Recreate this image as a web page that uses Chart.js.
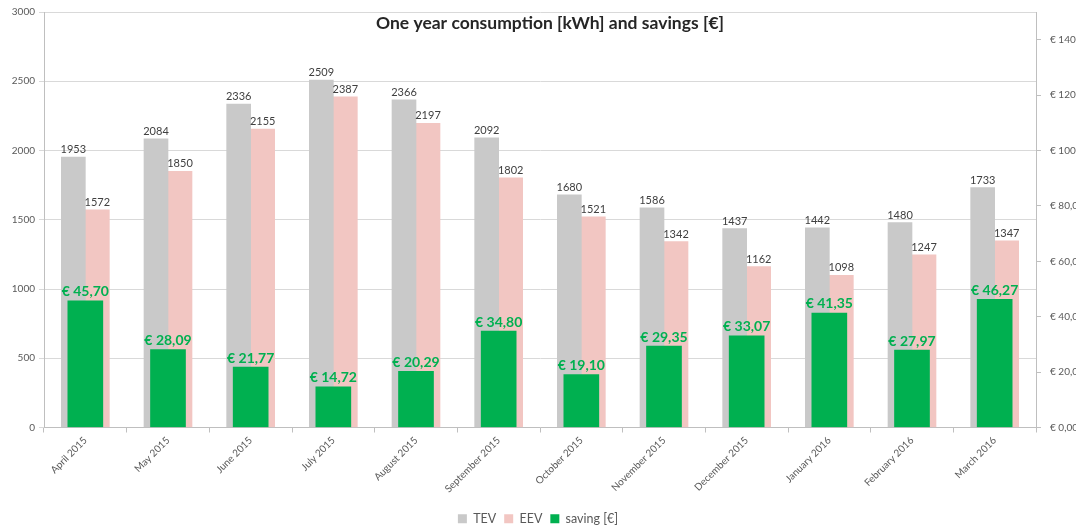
<!DOCTYPE html>
<html>
<head>
<meta charset="utf-8">
<script src="https://cdn.jsdelivr.net/npm/chart.js@4"></script>
<style>
  html, body { margin: 0; padding: 0; background: #fff; overflow: hidden; }
  #wrap { width: 1076px; height: 531px; }
</style>
</head>
<body>
<div id="wrap"><canvas id="chart" width="1076" height="531"></canvas></div>
<script>
// months on the x axis
const months = [
  "April 2015", "May 2015", "June 2015", "July 2015", "August 2015",
  "September 2015", "October 2015", "November 2015", "December 2015",
  "January 2016", "February 2016", "March 2016",
];

// consumption in kWh
const tev = [1953, 2084, 2336, 2509, 2366, 2092, 1680, 1586, 1437, 1442, 1480, 1733];
const eev = [1572, 1850, 2155, 2387, 2197, 1802, 1521, 1342, 1162, 1098, 1247, 1347];

// savings in euro
const saving = [45.7, 28.09, 21.77, 14.72, 20.29, 34.8, 19.1, 29.35, 33.07, 41.35, 27.97, 46.27];

const chartTitle = "One year consumption [kWh] and savings [€]";
const FONT = "Lato, 'Open Sans', sans-serif";

function euro(v) {
  return "€ " + v.toFixed(2).replace(".", ",");
}

// Draws the value labels above the bars and the title inside the plot
const barLabels = {
  id: "barLabels",
  afterDatasetsDraw(chart) {
    const ctx = chart.ctx;
    ctx.save();
    ctx.textAlign = "center";
    ctx.textBaseline = "bottom";
    chart.data.datasets.forEach((ds, i) => {
      const meta = chart.getDatasetMeta(i);
      meta.data.forEach((bar, j) => {
        if (i === 2) {
          ctx.font = "bold 14px " + FONT;
          ctx.fillStyle = "#00b050";
          ctx.fillText(euro(ds.data[j]), bar.x, bar.y - 2);
        } else {
          ctx.font = "11px " + FONT;
          ctx.fillStyle = "#404040";
          ctx.fillText(ds.data[j], bar.x, bar.y - 2);
        }
      });
    });

    // title sits inside the plot area
    const area = chart.chartArea;
    ctx.font = "bold 17.5px " + FONT;
    ctx.fillStyle = "#262626";
    ctx.textBaseline = "middle";
    ctx.fillText(chartTitle, (area.left + area.right) / 2 + 10, area.top + 11);
    ctx.restore();
  },
};

new Chart(document.getElementById("chart").getContext("2d"), {
  type: "bar",
  data: {
    labels: months,
    datasets: [
      {
        label: "TEV",
        data: tev,
        backgroundColor: "#c9c9c9",
        barThickness: 24,
        yAxisID: "y",
      },
      {
        label: "EEV",
        data: eev,
        backgroundColor: "#f2c6c2",
        barThickness: 24,
        yAxisID: "y",
      },
      {
        label: "saving [€]",
        data: saving,
        backgroundColor: "#00b050",
        barThickness: 35,
        grouped: false,
        order: -1,
        yAxisID: "y1",
      },
    ],
  },
  options: {
    responsive: false,
    animation: false,
    devicePixelRatio: 1,
    layout: { padding: { top: 12, left: 0, right: 0, bottom: -4 } },
    plugins: {
      tooltip: { enabled: false },
      legend: {
        position: "bottom",
        labels: {
          boxWidth: 9,
          boxHeight: 9,
          padding: 8,
          color: "#595959",
          font: { family: FONT, size: 12.5 },
          sort: (a, b) => a.datasetIndex - b.datasetIndex,
        },
      },
    },
    scales: {
      x: {
        grid: {
          display: true,
          drawOnChartArea: false,
          tickLength: 5,
          color: "#bfbfbf",
        },
        border: { color: "#bfbfbf" },
        ticks: {
          minRotation: 45,
          maxRotation: 45,
          color: "#595959",
          font: { family: FONT, size: 10 },
          padding: 2,
        },
        afterFit: (scale) => { scale.height = 77; },
      },
      y: {
        position: "left",
        min: 0,
        max: 3000,
        grid: { color: "#d9d9d9", tickLength: 5 },
        border: { color: "#bfbfbf" },
        ticks: {
          stepSize: 500,
          color: "#595959",
          font: { family: FONT, size: 10 },
          padding: 4,
          callback: (v) => String(v),
        },
        afterFit: (scale) => {
          scale.width = 44;
          scale.paddingTop = 0;
        },
      },
      y1: {
        position: "right",
        min: 0,
        max: 150,
        grid: { drawOnChartArea: false, color: "#bfbfbf", tickLength: 5 },
        border: { color: "#bfbfbf" },
        ticks: {
          stepSize: 20,
          color: "#595959",
          font: { family: FONT, size: 10 },
          padding: 9,
          callback: (v) => euro(v),
        },
        afterBuildTicks: (axis) => {
          axis.ticks = axis.ticks.filter((t) => t.value <= 140);
        },
        afterFit: (scale) => {
          scale.width = 40;
          scale.paddingTop = 0;
        },
      },
    },
  },
  plugins: [barLabels],
});
</script>
</body>
</html>
